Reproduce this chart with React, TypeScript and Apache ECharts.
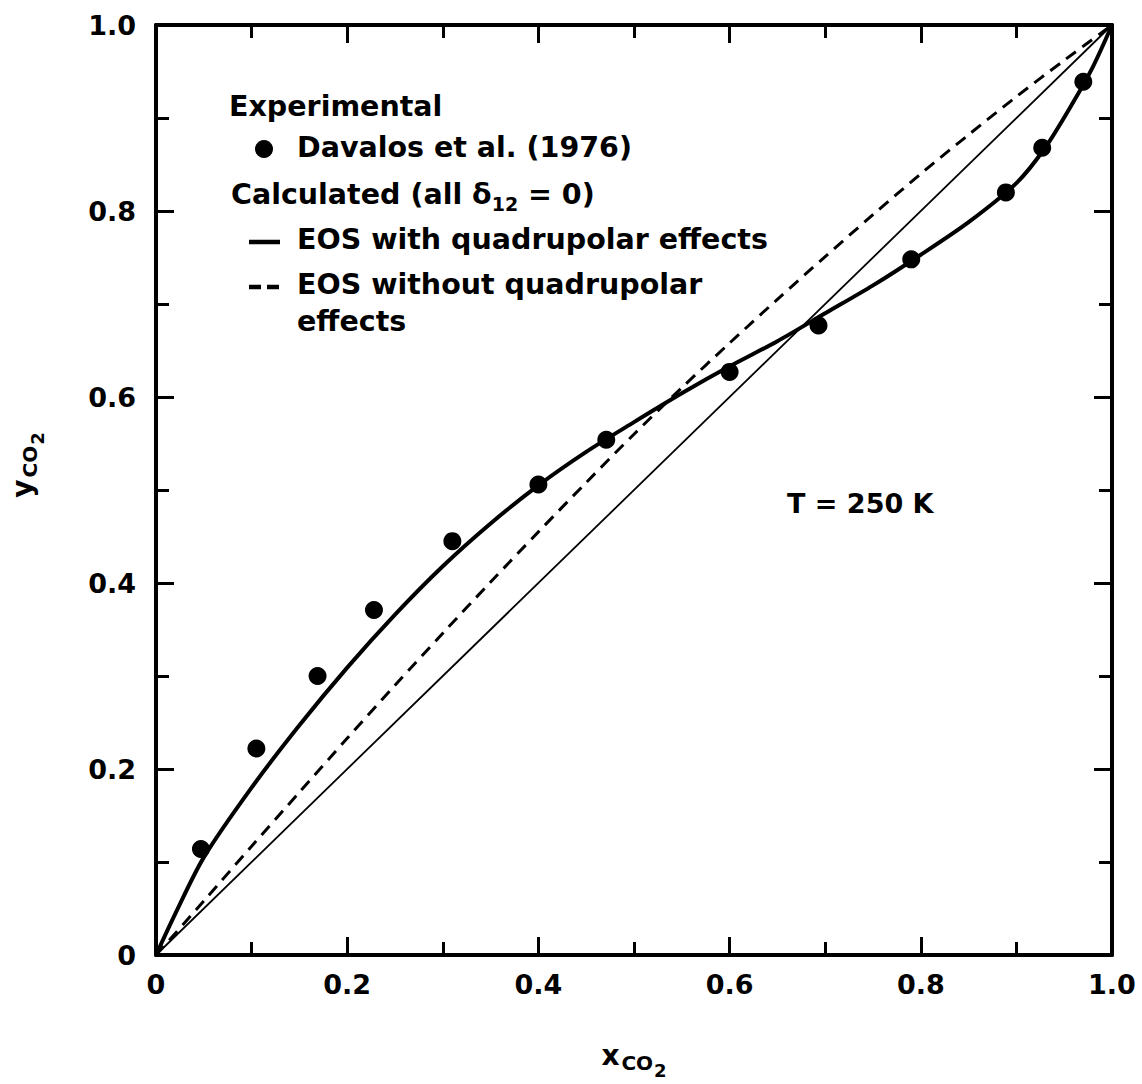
import React, { useEffect, useRef } from "react";
import * as echarts from "echarts";

// Experimental data: Davalos et al. (1976)
const expX = [0.047, 0.105, 0.169, 0.228, 0.31, 0.4, 0.471, 0.6, 0.693, 0.79, 0.889, 0.927, 0.97];
const expY = [0.114, 0.222, 0.3, 0.371, 0.445, 0.506, 0.554, 0.627, 0.677, 0.748, 0.82, 0.868, 0.939];

// EOS with quadrupolar effects (solid thick)
const withX = [0, 0.02, 0.05, 0.1, 0.15, 0.2, 0.25, 0.3, 0.35, 0.4, 0.45, 0.5, 0.55, 0.6, 0.65, 0.7, 0.75, 0.8, 0.85, 0.9, 0.93, 0.96, 0.98, 1.0];
const withY = [0, 0.044, 0.105, 0.18, 0.247, 0.309, 0.366, 0.418, 0.464, 0.505, 0.541, 0.573, 0.604, 0.633, 0.66, 0.69, 0.72, 0.753, 0.788, 0.83, 0.868, 0.918, 0.955, 1.0];

// EOS without quadrupolar effects (dashed)
const withoutX = [0, 0.05, 0.1, 0.15, 0.2, 0.25, 0.3, 0.35, 0.4, 0.45, 0.5, 0.55, 0.6, 0.65, 0.7, 0.75, 0.8, 0.85, 0.9, 0.95, 1.0];
const withoutY = [0, 0.058, 0.117, 0.175, 0.233, 0.29, 0.346, 0.401, 0.455, 0.508, 0.56, 0.61, 0.658, 0.705, 0.751, 0.796, 0.84, 0.882, 0.923, 0.962, 1.0];

// Diagonal y = x
const diagX = [0, 1];
const diagY = [0, 1];

const tickLabelsValues = [0, 0.2, 0.4, 0.6, 0.8, 1.0];

const FONT = "DejaVu Sans";

const zip = (xs: number[], ys: number[]) => xs.map((x, i) => [x, ys[i]]);

export default function App() {
  const ref = useRef<HTMLDivElement>(null);
  useEffect(() => {
    if (!ref.current) return;
    const chart = echarts.init(ref.current, null, { renderer: "svg" });
    const fmt = (v: number) =>
      v === 0 ? "0" : tickLabelsValues.includes(Math.round(v * 10) / 10) ? v.toFixed(1) : "";
    const axisCommon = {
      type: "value" as const,
      min: 0,
      max: 1,
      interval: 0.2,
      splitLine: { show: false },
      axisLine: { show: true, onZero: false, lineStyle: { color: "#000", width: 4 } },
      axisTick: { show: true, inside: true, length: 18, lineStyle: { color: "#000", width: 3 } },
      minorTick: { show: true, splitNumber: 2, length: 13, lineStyle: { color: "#000", width: 3 } },
      minorSplitLine: { show: false },
    };
    const labelStyle = { color: "#000", fontFamily: FONT, fontWeight: "bold" as const, fontSize: 27 };
    const nameRich = {
      a: { fontFamily: FONT, fontWeight: "bold", fontSize: 28, color: "#000" },
      b: { fontFamily: FONT, fontWeight: "bold", fontSize: 20, color: "#000", padding: [16, 0, 0, 2] },
      c: { fontFamily: FONT, fontWeight: "bold", fontSize: 18, color: "#000", padding: [30, 0, 0, 1] },
    };
    const legendFont = `bold 28.5px "${FONT}"`;
    chart.setOption({
      animation: false,
      backgroundColor: "#fff",
      grid: { left: 150, right: 30, top: 25, bottom: 114 },
      xAxis: [
        {
          ...axisCommon,
          position: "bottom",
          axisLabel: { ...labelStyle, margin: 16, formatter: fmt },
          name: "{a|x}{b|CO}{c|2}",
          nameLocation: "middle",
          nameGap: 76,
          nameTextStyle: { rich: nameRich },
        },
        { ...axisCommon, position: "top", axisLabel: { show: false } },
      ],
      yAxis: [
        {
          ...axisCommon,
          position: "left",
          axisLabel: { ...labelStyle, margin: 20, formatter: fmt },
          name: "{a|y}{b|CO}{c|2}",
          nameLocation: "middle",
          nameGap: 110,
          nameRotate: 90,
          nameTextStyle: { padding: [0, 0, 0, 50], rich: nameRich },
        },
        { ...axisCommon, position: "right", axisLabel: { show: false } },
      ],
      series: [
        {
          name: "y = x",
          type: "line",
          data: zip(diagX, diagY),
          showSymbol: false,
          lineStyle: { color: "#000", width: 1.8 },
          z: 2,
        },
        {
          name: "EOS without quadrupolar effects",
          type: "line",
          data: zip(withoutX, withoutY),
          smooth: 0.3,
          showSymbol: false,
          lineStyle: { color: "#000", width: 3, type: [12, 8] },
          z: 3,
        },
        {
          name: "EOS with quadrupolar effects",
          type: "line",
          data: zip(withX, withY),
          smooth: 0.3,
          showSymbol: false,
          lineStyle: { color: "#000", width: 4 },
          z: 4,
        },
        {
          name: "Davalos et al. (1976)",
          type: "scatter",
          data: zip(expX, expY),
          symbol: "circle",
          symbolSize: 18,
          itemStyle: { color: "#000", opacity: 1 },
          z: 5,
        },
      ],
      graphic: [
        {
          type: "text",
          left: 229,
          top: 92,
          style: { text: "Experimental", font: legendFont, fill: "#000" },
        },
        { type: "circle", shape: { cx: 264, cy: 149, r: 9 }, style: { fill: "#000" } },
        {
          type: "text",
          left: 297,
          top: 133,
          style: { text: "Davalos et al. (1976)", font: legendFont, fill: "#000" },
        },
        {
          type: "text",
          left: 231,
          top: 180,
          style: {
            text: "Calculated (all {d|δ}{s|12} = 0)",
            font: legendFont,
            fill: "#000",
            rich: {
              d: { font: legendFont, fill: "#000" },
              s: { font: `bold 19px "${FONT}"`, fill: "#000", padding: [18, 0, 0, 0] },
            },
          },
        },
        { type: "line", shape: { x1: 249, y1: 242, x2: 280, y2: 242 }, style: { stroke: "#000", lineWidth: 4.5 } },
        {
          type: "text",
          left: 297,
          top: 225,
          style: { text: "EOS with quadrupolar effects", font: legendFont, fill: "#000" },
        },
        {
          type: "line",
          shape: { x1: 249, y1: 287, x2: 280, y2: 287 },
          style: { stroke: "#000", lineWidth: 4.5, lineDash: [12, 6] },
        },
        {
          type: "text",
          left: 297,
          top: 270,
          style: { text: "EOS without quadrupolar", font: legendFont, fill: "#000" },
        },
        {
          type: "text",
          left: 297,
          top: 307,
          style: { text: "effects", font: legendFont, fill: "#000" },
        },
        {
          type: "text",
          left: 787,
          top: 490,
          style: { text: "T = 250 K", font: `bold 27px "${FONT}"`, fill: "#000" },
        },
      ],
    });
    return () => chart.dispose();
  }, []);
  return (
    <div
      ref={ref}
      style={{ position: "absolute", left: 0, top: 0, width: 1142, height: 1084, background: "#fff" }}
    />
  );
}
